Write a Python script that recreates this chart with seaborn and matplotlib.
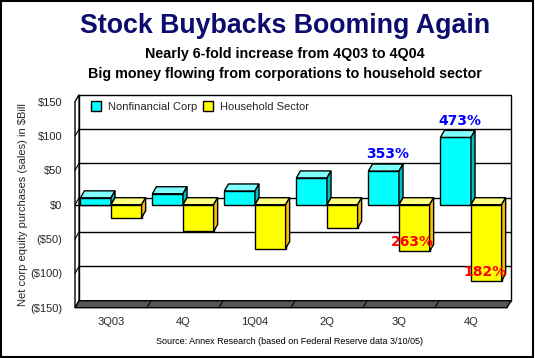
import matplotlib
matplotlib.use("Agg")
import matplotlib.pyplot as plt
from matplotlib.patches import Polygon, Rectangle
import numpy as np
import pandas as pd
import seaborn as sns

# chart data
quarters = ["3Q03", "4Q", "1Q04", "2Q", "3Q", "4Q"]
corp_vals = [10, 16, 20, 39, 49, 98]
household_vals = [-19, -39, -64, -34, -68, -111]
corp_pct = ["", "", "", "", "353%", "473%"]
household_pct = ["", "", "", "", "263%", "182%"]
series = ["Nonfinancial Corp", "Household Sector"]
yticks = [-150, -100, -50, 0, 50, 100, 150]
ytick_labels = ["($150)", "($100)", "($50)", "$0", "$50", "$100", "$150"]

front = {"Nonfinancial Corp": "#00FFFF", "Household Sector": "#FFFF00"}
top_col = {"Nonfinancial Corp": "#80FFFF", "Household Sector": "#FFFF80"}
side_col = {"Nonfinancial Corp": "#00C0C0", "Household Sector": "#FFC000"}

df = pd.DataFrame({
    "quarter": list(range(len(quarters))) * 2,
    "series": [series[0]] * len(quarters) + [series[1]] * len(quarters),
    "value": corp_vals + household_vals,
})

sns.set_style("white")
plt.rcParams["font.family"] = ["Liberation Sans", "DejaVu Sans"]

fig = plt.figure(figsize=(5.35, 3.58), dpi=100)
ax = fig.add_axes([75 / 535, (358 - 307.7) / 358, 432 / 535, 206 / 358])

# depth offset of the fake 3d look (in data units)
dx = 0.056
dy = 10.2

ax.set_xlim(-0.5, 5.5)
ax.set_ylim(-150, 150)

# walls and floor
ax.add_patch(Rectangle((-0.5 + dx, -150 + dy), 6, 300, facecolor="white",
                       edgecolor="black", lw=1, zorder=0, clip_on=False))
ax.add_patch(Polygon([(-0.5, -150), (-0.5 + dx, -150 + dy), (-0.5 + dx, 150 + dy), (-0.5, 150)],
                     closed=True, facecolor="white", edgecolor="black", lw=1, zorder=0, clip_on=False))
ax.add_patch(Polygon([(-0.5, -150), (5.5, -150), (5.5 + dx, -150 + dy), (-0.5 + dx, -150 + dy)],
                     closed=True, facecolor="#555555", edgecolor="black", lw=1, zorder=0.5, clip_on=False))
for b in np.arange(0.5, 5.5, 1.0):
    ax.plot([b, b + dx], [-150, -150 + dy], color="black", lw=0.8, zorder=0.6, clip_on=False)
for v in [-100, -50, 0, 50, 100]:
    ax.plot([-0.5 + dx, 5.5 + dx], [v + dy, v + dy], color="black", lw=1, zorder=0.2, clip_on=False)
    ax.plot([-0.5, -0.5 + dx], [v, v + dy], color="black", lw=0.8, zorder=0.2, clip_on=False)
ax.plot([-0.5, 0], [0, 0], color="black", lw=1, zorder=0.3)

sns.barplot(data=df, x="quarter", y="value", hue="series", order=list(range(len(quarters))),
            hue_order=series, palette=front, width=0.85, dodge=True, saturation=1,
            edgecolor="black", linewidth=1, legend=False, ax=ax, native_scale=False)

# add top and side faces to each bar
bars = [p for p in ax.patches if isinstance(p, Rectangle) and p.get_width() < 1 and p.get_width() > 0.2]
n = len(quarters)
for i, p in enumerate(bars):
    s = series[0] if i < n else series[1]
    k = i % n
    x0, w = p.get_x(), p.get_width()
    x1 = x0 + w
    y0, h = p.get_y(), p.get_height()
    lo, hi = min(y0, y0 + h), max(y0, y0 + h)
    z = 2 + k * 2 + (0 if s == series[0] else 1)
    p.set_zorder(z)
    top = Polygon([(x0, hi), (x1, hi), (x1 + dx, hi + dy), (x0 + dx, hi + dy)], closed=True,
                  facecolor=top_col[s], edgecolor="black", lw=1, zorder=z, clip_on=False)
    side = Polygon([(x1, lo), (x1 + dx, lo + dy), (x1 + dx, hi + dy), (x1, hi)], closed=True,
                   facecolor=side_col[s], edgecolor="black", lw=1, zorder=z, clip_on=False)
    ax.add_patch(top)
    ax.add_patch(side)

# percent labels
for k in range(n):
    cx = k - 0.85 / 4
    if corp_pct[k]:
        ax.text(cx + dx, corp_vals[k] + dy + 4, corp_pct[k], color="#0000FF", fontsize=10,
                fontweight="bold", ha="center", va="bottom", family="DejaVu Sans", zorder=30)
    hx = k + 0.85 / 4
    if household_pct[k]:
        ax.text(hx - 0.02, household_vals[k] + 13, household_pct[k], color="#FF0000", fontsize=10,
                fontweight="bold", ha="center", va="center", family="DejaVu Sans", zorder=30)

for sp in ax.spines.values():
    sp.set_visible(False)
ax.set_yticks(yticks)
ax.set_yticklabels(ytick_labels, fontsize=8)
ax.set_xticks(range(n))
ax.set_xticklabels(quarters, fontsize=8)
ax.tick_params(axis="y", length=0, pad=9)
ax.tick_params(axis="x", length=0, pad=7)
ax.set_xlabel("")
ax.set_ylabel("Net corp equity purchases (sales) in $Bill", fontsize=8)
ax.yaxis.set_label_coords(-0.108, 0.5)

handles = [Rectangle((0, 0), 1, 1, facecolor=front[s], edgecolor="black") for s in series]
ax.legend(handles, series, loc="upper left", bbox_to_anchor=(0.015, 1.05), ncol=2, frameon=False,
          fontsize=8, handlelength=0.9, handleheight=0.9, columnspacing=0.5, handletextpad=0.6)

fig.text(285 / 535, 1 - 26 / 358, "Stock Buybacks Booming Again", ha="center", va="center",
         fontsize=19.3, fontweight="bold", color="#0C0C6E")
fig.text(285 / 535, 1 - 54 / 358, "Nearly 6-fold increase from 4Q03 to 4Q04", ha="center",
         va="center", fontsize=10.3, fontweight="bold", color="black")
fig.text(285 / 535, 1 - 74 / 358, "Big money flowing from corporations to household sector",
         ha="center", va="center", fontsize=10.3, fontweight="bold", color="black")
fig.text(289 / 535, 1 - 342 / 358, "Source: Annex Research (based on Federal Reserve data 3/10/05)",
         ha="center", va="center", fontsize=6.5, color="black")

fig.patches.append(Rectangle((0.002, 0.003), 0.994, 0.994, transform=fig.transFigure,
                             fill=False, edgecolor="black", lw=1.5))

fig.savefig("out.png", dpi=100)
